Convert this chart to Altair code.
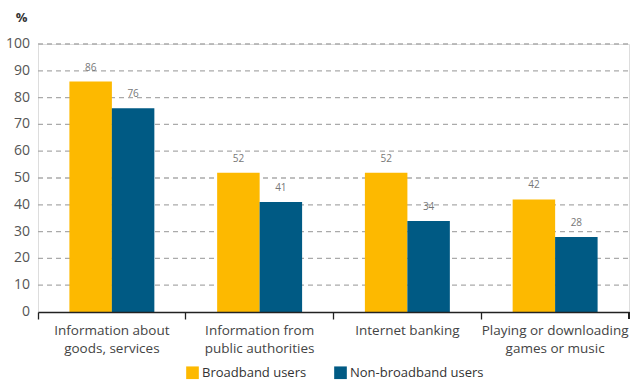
import altair as alt
import pandas as pd

# Share of internet users doing each activity, by connection type (%)
categories = [
    "Information about\ngoods, services",
    "Information from\npublic authorities",
    "Internet banking",
    "Playing or downloading\ngames or music",
]
series = ["Broadband users", "Non-broadband users"]
broadband = [86, 52, 52, 42]
non_broadband = [76, 41, 34, 28]
colors = ["#FDB900", "#005A84"]
y_ticks = [0, 10, 20, 30, 40, 50, 60, 70, 80, 90, 100]

rows = []
for cat, b, n in zip(categories, broadband, non_broadband):
    rows.append({"activity": cat, "group": series[0], "value": b})
    rows.append({"activity": cat, "group": series[1], "value": n})
df = pd.DataFrame(rows)
ticks_df = pd.DataFrame({"value": y_ticks})

FONT = "Open Sans"
W, H = 591, 268

y_scale = alt.Scale(domain=[0, 100], nice=False)

x_enc = alt.X(
    "activity:N",
    sort=categories,
    scale=alt.Scale(paddingInner=0, paddingOuter=0),
    axis=alt.Axis(
        title=None,
        bandPosition=0,
        labelAngle=0,
        labelBaseline="top",
        labelAlign="center",
        labelExpr="split(datum.label, '\\n')",
        labelLineHeight=18,
        labelFontSize=13.5,
        labelColor="#444444",
        labelFont=FONT,
        labelPadding=4,
        domainColor="#222222",
        domainWidth=1.3,
        tickColor="#222222",
        tickWidth=1.3,
        tickSize=7,
        grid=False,
        zindex=1,
    ),
)
xoff_enc = alt.XOffset(
    "group:N", sort=series, scale=alt.Scale(paddingInner=0, paddingOuter=0.74)
)
y_enc = alt.Y(
    "value:Q",
    scale=y_scale,
    axis=alt.Axis(
        title="%",
        titleAngle=0,
        titleX=-17,
        titleY=-23,
        titleAlign="center",
        titleBaseline="alphabetic",
        titleFont=FONT,
        titleFontSize=13,
        titleFontWeight="bold",
        titleColor="#333333",
        labels=False,
        ticks=False,
        grid=False,
        domain=False,
    ),
)

# dashed horizontal gridlines, one per tick above zero
grid = (
    alt.Chart(ticks_df)
    .transform_filter("datum.value > 0")
    .mark_rule(color="#AAAAAA", strokeDash=[5, 4], strokeWidth=1.3)
    .encode(y=alt.Y("value:Q", scale=y_scale), x=alt.value(0), x2=alt.value(W))
)

# y tick labels
y_labels = alt.Chart(ticks_df).mark_text(
    align="right", baseline="middle", dx=-8, font=FONT, fontSize=14, color="#555555"
).encode(y=alt.Y("value:Q", scale=y_scale), x=alt.value(0), text="value:Q")

bars = alt.Chart(df).mark_bar(size=42.5).encode(
    x=x_enc,
    xOffset=xoff_enc,
    y=y_enc,
    color=alt.Color(
        "group:N",
        sort=series,
        scale=alt.Scale(domain=series, range=colors),
        legend=alt.Legend(
            title=None,
            orient="none",
            legendX=148,
            legendY=322,
            direction="horizontal",
            symbolType="square",
            symbolSize=160,
            symbolStrokeWidth=0,
            symbolOpacity=1,
            labelFont=FONT,
            labelFontSize=13,
            labelColor="#333333",
            labelOffset=3,
            columnPadding=27,
            padding=0,
        ),
    ),
)

labels = alt.Chart(df).mark_text(
    baseline="alphabetic", dy=-11, font=FONT, fontSize=10, color="#777777"
).encode(
    x=x_enc,
    xOffset=xoff_enc,
    y=y_enc,
    text="value:Q",
)

# closing tick at the right end of the category axis
end_tick = alt.Chart(df).mark_rule(color="#222222", strokeWidth=1.3).encode(
    x=alt.value(W), y=alt.value(H), y2=alt.value(H + 7)
)

chart = (
    alt.layer(grid, y_labels, bars, labels, end_tick)
    .properties(
        width=W,
        height=H,
        padding={"left": 38, "top": 44, "right": 2, "bottom": 69},
        autosize=alt.AutoSizeParams(type="none"),
    )
    .configure_view(stroke=None)
    .configure(background="white")
)

chart.save("out.html", embed_options={"renderer": "svg", "actions": False})
